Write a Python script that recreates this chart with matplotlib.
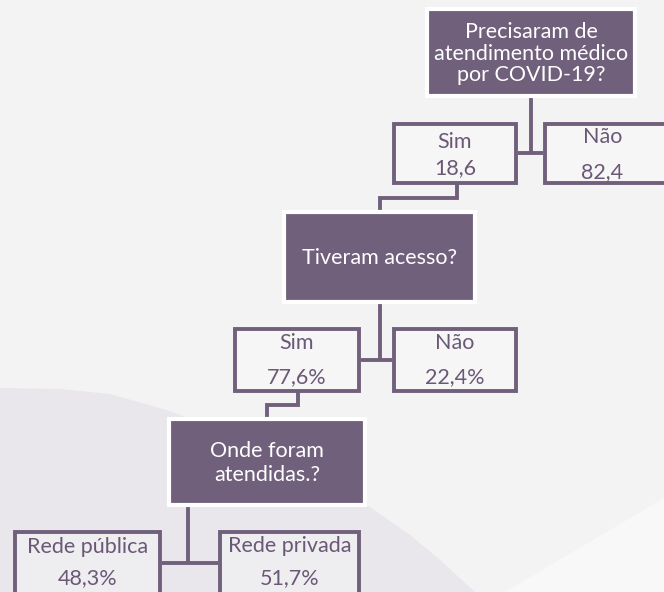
import numpy as np
import matplotlib.pyplot as plt
from matplotlib.patches import Rectangle, Polygon

plt.rcParams['font.family'] = ['Lato', 'DejaVu Sans']

# data
questions = ["Precisaram de\natendimento médico\npor COVID-19?",
             "Tiveram acesso?",
             "Onde foram\natendidas.?"]
answers = [["Sim", "Não"], ["Sim", "Não"], ["Rede pública", "Rede privada"]]
values = [["18,6", "82,4"], ["77,6%", "22,4%"], ["48,3%", "51,7%"]]

# layout (pixels, y down)
q_boxes = [(425, 7, 637, 98), (282, 210, 477, 304), (167, 417, 367, 507)]
a_boxes = [[(392, 122, 518, 185), (543, 122, 668, 185)],
           [(233, 327, 361, 393), (392, 327, 518, 393)],
           [(13, 530, 162, 610), (218, 530, 361, 610)]]
a_text_y = [[(142, 168), (137, 172)],
            [(343, 377), (343, 377)],
            [(547, 578), (546, 578)]]
q_spacing = [1.12, 1.0, 1.28]
stems = [(531, 153), (380, 360), (188, 563)]
elbows = [[(457, 185), (457, 198), (380, 198), (380, 210)],
          [(298, 393), (298, 405), (267, 405), (267, 417)]]

PURPLE = '#71607c'
TXT = '#6a5876'
BG = '#f3f3f3'
LW = 2.8
FS = 15.5

fig = plt.figure(figsize=(6.64, 5.92), dpi=100)
fig.patch.set_facecolor(BG)
ax = fig.add_axes([0, 0, 1, 1])
ax.set_xlim(0, 664)
ax.set_ylim(592, 0)
ax.axis('off')

# background shapes
lav = [(0, 388), (60, 389), (110, 394), (170, 411), (230, 435), (300, 470),
       (370, 507), (410, 535), (440, 560), (475, 592), (0, 592)]
ax.add_patch(Polygon(lav, closed=True, facecolor='#e9e7eb', edgecolor='none', zorder=0))
ax.add_patch(Polygon([(664, 498), (505, 592), (664, 592)], closed=True,
                     facecolor='#f8f8f8', edgecolor='none', zorder=0))

# connectors
for i, (x, jy) in enumerate(stems):
    qb = q_boxes[i]
    ab = a_boxes[i]
    ax.plot([x, x], [qb[3], jy], color=PURPLE, lw=LW, zorder=1, solid_capstyle='butt')
    ax.plot([ab[0][2], ab[1][0]], [jy, jy], color=PURPLE, lw=LW, zorder=1, solid_capstyle='butt')
for pts in elbows:
    xs, ys = zip(*pts)
    ax.plot(xs, ys, color=PURPLE, lw=LW, zorder=1, solid_joinstyle='miter')

# question boxes
for q, sp, (x0, y0, x1, y1) in zip(questions, q_spacing, q_boxes):
    ax.add_patch(Rectangle((x0 + 2, y0 + 2), x1 - x0 - 4, y1 - y0 - 4,
                           facecolor=PURPLE, edgecolor='white', lw=3, zorder=2))
    ax.text((x0 + x1) / 2, (y0 + y1) / 2 + 1, q, color='white', fontsize=FS,
            ha='center', va='center', linespacing=sp, zorder=3)

# answer boxes
for i in range(len(answers)):
    for j in range(2):
        x0, y0, x1, y1 = a_boxes[i][j]
        ax.add_patch(Rectangle((x0 + 2, y0 + 2), x1 - x0 - 4, y1 - y0 - 4,
                               facecolor=(1, 1, 1, 0.25), edgecolor=PURPLE, lw=LW, zorder=2))
        ly, vy = a_text_y[i][j]
        cx = (x0 + min(x1, 662)) / 2 if i == 0 and j == 1 else (x0 + x1) / 2
        ax.text(cx, ly, answers[i][j], color=TXT, fontsize=FS, ha='center', va='center', zorder=3)
        ax.text(cx, vy, values[i][j], color=TXT, fontsize=FS, ha='center', va='center', zorder=3)

fig.savefig('out.png', dpi=100, facecolor=BG)
